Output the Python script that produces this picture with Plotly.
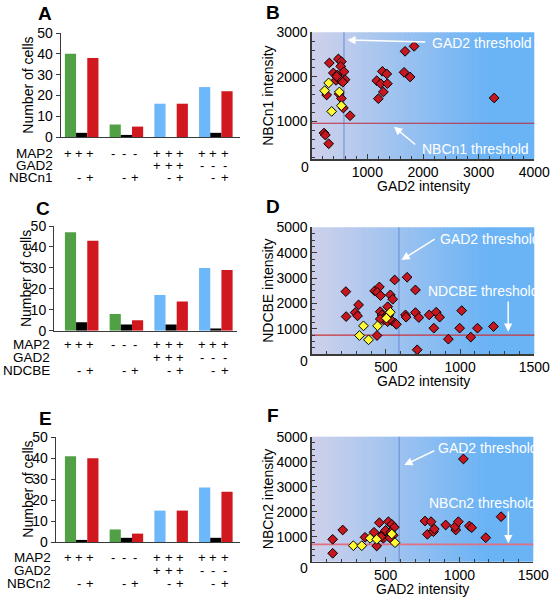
import plotly.graph_objects as go

FONT = "Arial, Liberation Sans, sans-serif"
W, H = 551, 600

# ---------------- bar data (cell counts) ----------------
groups = ["MAP2+", "MAP2-", "MAP2+GAD2+", "MAP2+GAD2-"]
A_total = [40, 6, 16, 24]
A_neg = [2, 1, 0, 2]
A_pos = [38, 5, 16, 22]
C_total = [47, 8, 17, 30]
C_neg = [4, 3, 3, 1]
C_pos = [43, 5, 14, 29]
E_total = [41, 6, 15, 26]
E_neg = [1, 2, 0, 2]
E_pos = [40, 4, 15, 24]
bar_yticks = [0, 10, 20, 30, 40, 50]
MAP2_signs = ["+", "-", "+", "+"]
GAD2_signs = ["", "", "+", "-"]
marker_signs = ["", "-", "+"]

# ---------------- scatter data (intensities) ----------------
B_red_x = [317, 479, 533, 521, 389, 461, 581, 437, 497, 599, 527, 449, 560, 269, 490, 533, 569, 689,
           221, 245, 305, 1169, 1241, 1270, 1349, 1360, 1288, 1198, 1678, 1840, 1660, 1768, 3279]
B_red_y = [2312, 2402, 2342, 2236, 2088, 2043, 2117, 1922, 1953, 1937, 1915, 2010, 1880, 1593, 1620, 1517,
           1301, 1128, 739, 694, 499, 1915, 1847, 2124, 2065, 1847, 1661, 1510, 2573, 2685, 2101, 1998, 1526]
B_yel_x = [305, 233, 497, 533, 359]
B_yel_y = [1863, 1690, 1661, 1353, 1225]

D_red_x = [230, 232, 316, 293, 309, 424, 456, 442, 464, 530, 546, 559, 643, 699, 462, 512, 474, 496, 519,
           485, 462, 512, 542, 564, 571, 440, 711, 632, 636, 699, 722, 792, 823, 839, 862, 921, 997, 1011,
           1072, 1117, 1225]
D_red_y = [2468, 1485, 1945, 1643, 1513, 2495, 2652, 2444, 2311, 2338, 2169, 2927, 3033, 2534, 1677, 1874,
           1547, 1480, 1547, 1350, 1390, 1283, 1311, 1220, 1181, 739, 177, 1552, 1462, 1643, 1446, 1552,
           1029, 1658, 1462, 597, 1029, 1721, 676, 1029, 1092]
D_yel_x = [349, 322, 383, 444, 503, 530]
D_yel_y = [1120, 739, 570, 1120, 1422, 1658]

F_red_x = [142, 142, 210, 361, 422, 458, 440, 481, 485, 470, 500, 519, 542, 559, 535, 552, 530, 767, 808,
           783, 824, 830, 907, 975, 970, 993, 1027, 1067, 1083, 1178, 1282]
F_red_y = [896, 336, 1268, 976, 1176, 1560, 628, 1108, 936, 1000, 1250, 1600, 1496, 1376, 1176, 1056, 950,
           1628, 1600, 1096, 1200, 1308, 1468, 1268, 1400, 1600, 4108, 1428, 1360, 960, 1800]
F_yel_x = [282, 339, 395, 440, 542, 564]
F_yel_y = [640, 640, 936, 896, 1108, 760]

# thresholds [GAD2, transporter]
B_thr = [580, 960]
D_thr = [588, 754]
F_thr = [592, 690]

GREEN = "rgb(82,160,70)"
BLUE = "rgb(108,184,250)"
RED = "rgb(208,24,30)"
BLACK = "rgb(0,0,0)"
MRED = "rgb(200,22,32)"
MYEL = "rgb(255,250,50)"
AXC = "#3a3a3a"

def px(x):
    return x / W

def py(y):
    return 1 - y / H

fig = go.Figure()
annotations = []
shapes = []

# ---------------- bar panels ----------------
SLOT = 11.18
C0 = 70.5
bar_panels = [
    dict(ax="", tot=A_total, neg=A_neg, pos=A_pos, box=(61, 240, 33, 137), name="NBCn1",
         rows=(153.5, 165.5, 178.0), lab_r=55, title_x=27.7, letter="A", letter_xy=(45, 14)),
    dict(ax="3", tot=C_total, neg=C_neg, pos=C_pos, box=(54.3, 236.7, 226, 330.7), name="NDCBE",
         rows=(344.5, 357.5, 370.5), lab_r=51.7, title_x=26.7, letter="C", letter_xy=(43, 208.5)),
    dict(ax="5", tot=E_total, neg=E_neg, pos=E_pos, box=(56, 240, 437.3, 542), name="NBCn2",
         rows=(557.5, 570.5, 583.5), lab_r=53.3, title_x=28, letter="E", letter_xy=(45, 418.5)),
]

layout_axes = {}
for p in bar_panels:
    a = p["ax"]
    xa, ya = "x" + a, "y" + a
    l, r, t, b = p["box"]
    xg = [4 * g for g in range(len(groups))]
    tot_colors = [GREEN, GREEN, BLUE, BLUE]
    fig.add_trace(go.Bar(x=xg, y=p["tot"], width=1, marker=dict(color=tot_colors, line=dict(width=0)),
                         xaxis=xa, yaxis=ya, showlegend=False))
    fig.add_trace(go.Bar(x=[v + 1 for v in xg], y=p["neg"], width=1, marker=dict(color=BLACK, line=dict(width=0)),
                         xaxis=xa, yaxis=ya, showlegend=False))
    fig.add_trace(go.Bar(x=[v + 2 for v in xg], y=p["pos"], width=1, marker=dict(color=RED, line=dict(width=0)),
                         xaxis=xa, yaxis=ya, showlegend=False))
    xk = "xaxis" + a
    yk = "yaxis" + a
    layout_axes[xk] = dict(domain=[px(l), px(r)], range=[(l - C0) / SLOT, (r - C0) / SLOT],
                           showline=True, linecolor=AXC, linewidth=1.3, showticklabels=False,
                           ticks="", showgrid=False, zeroline=False, anchor=ya, fixedrange=True,
                           automargin=False)
    layout_axes[yk] = dict(domain=[py(b), py(t)], range=[0, 50], tickvals=bar_yticks,
                           showline=True, linecolor=AXC, linewidth=1.3, ticks="outside", ticklen=4,
                           tickcolor=AXC, showgrid=False, zeroline=False, anchor=xa, automargin=False,
                           tickfont=dict(family=FONT, size=14, color="black"))
    # row labels
    for lab, ry in zip(["MAP2", "GAD2", p["name"]], p["rows"]):
        annotations.append(dict(text=lab, x=px(p["lab_r"]), y=py(ry), xref="paper", yref="paper",
                                xanchor="right", yanchor="middle", showarrow=False,
                                font=dict(family=FONT, size=13.5, color="black")))
    # signs
    for g in range(len(groups)):
        for bi in range(3):
            xv = 4 * g + bi
            for sgn, ry in [(MAP2_signs[g], p["rows"][0]), (GAD2_signs[g], p["rows"][1]),
                            (marker_signs[bi], p["rows"][2])]:
                if sgn:
                    annotations.append(dict(text=sgn, x=xv, y=py(ry), xref=xa, yref="paper",
                                            xanchor="center", yanchor="middle", showarrow=False, xshift=-2.5,
                                            font=dict(family=FONT, size=13, color="black")))
    annotations.append(dict(text="Number of cells", x=px(p["title_x"]), y=py((t + b) / 2), xref="paper",
                            yref="paper", textangle=-90, showarrow=False, xanchor="center", yanchor="middle",
                            font=dict(family=FONT, size=14, color="black")))
    annotations.append(dict(text="<b>%s</b>" % p["letter"], x=px(p["letter_xy"][0]), y=py(p["letter_xy"][1]),
                            xref="paper", yref="paper", showarrow=False, xanchor="center", yanchor="middle",
                            font=dict(family=FONT, size=19, color="black")))

# ---------------- scatter panels ----------------
LEFTC = (206, 209, 235)
RIGHTC = (106, 179, 245)

sc_panels = [
    dict(ax="2", rx=B_red_x, ry=B_red_y, yx=B_yel_x, yy=B_yel_y, thr=B_thr, box=(311.7, 534.3, 32.3, 159.3),
         xr=[0, 4000], yr=[150, 3000], xt=[1000, 2000, 3000, 4000], yt=[1000, 2000, 3000],
         xminor=200, yminor=200, name="NBCn1", letter="B", letter_xy=(273, 12), zero_xy=(305, 166.7),
         xtitle_y=186, hthr_color="rgb(190,40,60)", hthr_w=1.1,
         gad_text=(2126, 2767), gad_arrow=((2066, 2783), (640, 2827)),
         tr_text=(1946, 381), tr_arrow=((1887, 455), (1479, 882))),
    dict(ax="4", rx=D_red_x, ry=D_red_y, yx=D_yel_x, yy=D_yel_y, thr=D_thr, box=(311.7, 534.3, 227.3, 354.3),
         xr=[0, 1500], yr=[0, 5000], xt=[500, 1000, 1500], yt=[1000, 2000, 3000, 4000, 5000],
         xminor=100, yminor=250, name="NDCBE", letter="D", letter_xy=(273, 206.5), zero_xy=(304.3, 360.7),
         xtitle_y=381, hthr_color="rgb(200,50,60)", hthr_w=1.1,
         gad_text=(849, 4528), gad_arrow=((839, 4567), (605, 3713)),
         tr_text=(772, 2492), tr_arrow=((1324, 2138), (1324, 890))),
    dict(ax="6", rx=F_red_x, ry=F_red_y, yx=F_yel_x, yy=F_yel_y, thr=F_thr, box=(311.7, 533.3, 436.7, 561.7),
         xr=[0, 1500], yr=[0, 5000], xt=[500, 1000, 1500], yt=[1000, 2000, 3000, 4000, 5000],
         xminor=100, yminor=250, name="NBCn2", letter="F", letter_xy=(273, 415), zero_xy=(304.3, 568.3),
         xtitle_y=589, hthr_color="rgb(226,110,130)", hthr_w=1.8,
         gad_text=(840, 4536), gad_arrow=((840, 4468), (627, 3868)),
         tr_text=(779, 2336), tr_arrow=((1331, 2068), (1331, 736))),
]

NSTRIP = 50
GEND = 0.8
for p in sc_panels:
    a = p["ax"]
    xa, ya = "x" + a, "y" + a
    l, r, t, b = p["box"]
    # gradient background
    for i in range(NSTRIP):
        f = i / (NSTRIP - 1)
        col = "rgb(%d,%d,%d)" % tuple(round(LEFTC[k] + (RIGHTC[k] - LEFTC[k]) * f) for k in range(3))
        x0 = GEND * i / NSTRIP
        x1 = GEND * (i + 1) / NSTRIP + 0.004
        shapes.append(dict(type="rect", xref=xa + " domain", yref=ya + " domain", x0=x0, x1=x1, y0=0, y1=1,
                           fillcolor=col, line=dict(width=0), layer="below"))
    shapes.append(dict(type="rect", xref=xa + " domain", yref=ya + " domain", x0=GEND, x1=1, y0=0, y1=1,
                       fillcolor="rgb(%d,%d,%d)" % RIGHTC, line=dict(width=0), layer="below"))
    # thresholds
    shapes.append(dict(type="line", xref=xa, yref=ya + " domain", x0=p["thr"][0], x1=p["thr"][0], y0=0, y1=1,
                       line=dict(color="rgb(100,130,200)", width=0.9), layer="below"))
    shapes.append(dict(type="line", xref=xa + " domain", yref=ya, x0=0, x1=1, y0=p["thr"][1], y1=p["thr"][1],
                       line=dict(color=p["hthr_color"], width=p["hthr_w"]), layer="below"))
    fig.add_trace(go.Scatter(x=p["rx"], y=p["ry"], mode="markers", xaxis=xa, yaxis=ya, showlegend=False,
                             marker=dict(symbol="diamond", size=7.5, color=MRED, line=dict(color="black", width=1))))
    fig.add_trace(go.Scatter(x=p["yx"], y=p["yy"], mode="markers", xaxis=xa, yaxis=ya, showlegend=False,
                             marker=dict(symbol="diamond", size=7.5, color=MYEL, line=dict(color="black", width=1))))
    xk = "xaxis" + a
    yk = "yaxis" + a
    tickf = dict(family=FONT, size=14, color="black")
    layout_axes[xk] = dict(domain=[px(l), px(r)], range=p["xr"], tickvals=p["xt"], showline=True,
                           linecolor=AXC, linewidth=1.3, ticks="inside", ticklen=5, tickcolor=AXC,
                           showgrid=False, zeroline=False, anchor=ya, tickfont=tickf, automargin=False,
                           minor=dict(tickmode="linear", tick0=0, dtick=p["xminor"], ticks="inside",
                                      ticklen=3, tickcolor=AXC, showgrid=False))
    layout_axes[yk] = dict(domain=[py(b), py(t)], range=p["yr"], tickvals=p["yt"], showline=True,
                           linecolor=AXC, linewidth=1.3, ticks="inside", ticklen=5, tickcolor=AXC,
                           showgrid=False, zeroline=False, anchor=xa, tickfont=tickf, automargin=False,
                           minor=dict(tickmode="linear", tick0=0, dtick=p["yminor"], ticks="inside",
                                      ticklen=3, tickcolor=AXC, showgrid=False))
    wf = dict(family=FONT, size=14, color="white")
    annotations.append(dict(text="GAD2 threshold", x=p["gad_text"][0], y=p["gad_text"][1], xref=xa, yref=ya,
                            xanchor="left", yanchor="middle", showarrow=False, font=wf))
    annotations.append(dict(text="%s threshold" % p["name"], x=p["tr_text"][0], y=p["tr_text"][1], xref=xa,
                            yref=ya, xanchor="left", yanchor="middle", showarrow=False, font=wf))
    for (tail, head) in [p["gad_arrow"], p["tr_arrow"]]:
        annotations.append(dict(text="", x=head[0], y=head[1], ax=tail[0], ay=tail[1], xref=xa, yref=ya,
                                axref=xa, ayref=ya, showarrow=True, arrowhead=2, arrowsize=1.1,
                                arrowwidth=1.5, arrowcolor="white"))
    annotations.append(dict(text="0", x=px(p["zero_xy"][0]), y=py(p["zero_xy"][1]), xref="paper", yref="paper",
                            showarrow=False, xanchor="center", yanchor="middle", font=tickf))
    annotations.append(dict(text="GAD2 intensity", x=px((l + r) / 2), y=py(p["xtitle_y"]), xref="paper",
                            yref="paper", showarrow=False, xanchor="center", yanchor="middle",
                            font=dict(family=FONT, size=14, color="black")))
    annotations.append(dict(text="%s intensity" % p["name"], x=px(268), y=py((t + b) / 2), xref="paper",
                            yref="paper", textangle=-90, showarrow=False, xanchor="center", yanchor="middle",
                            font=dict(family=FONT, size=14, color="black")))
    annotations.append(dict(text="<b>%s</b>" % p["letter"], x=px(p["letter_xy"][0]), y=py(p["letter_xy"][1]),
                            xref="paper", yref="paper", showarrow=False, xanchor="center", yanchor="middle",
                            font=dict(family=FONT, size=19, color="black")))

fig.update_layout(width=W, height=H, margin=dict(l=0, r=0, t=0, b=0, pad=0, autoexpand=False),
                  paper_bgcolor="white", plot_bgcolor="white", barmode="overlay", annotations=annotations,
                  shapes=shapes, font=dict(family=FONT), hovermode=False, **layout_axes)
fig.write_html("out.html", config={"displayModeBar": False, "staticPlot": True},
               post_script="document.body.style.margin='0px';document.body.style.overflow='hidden';")
